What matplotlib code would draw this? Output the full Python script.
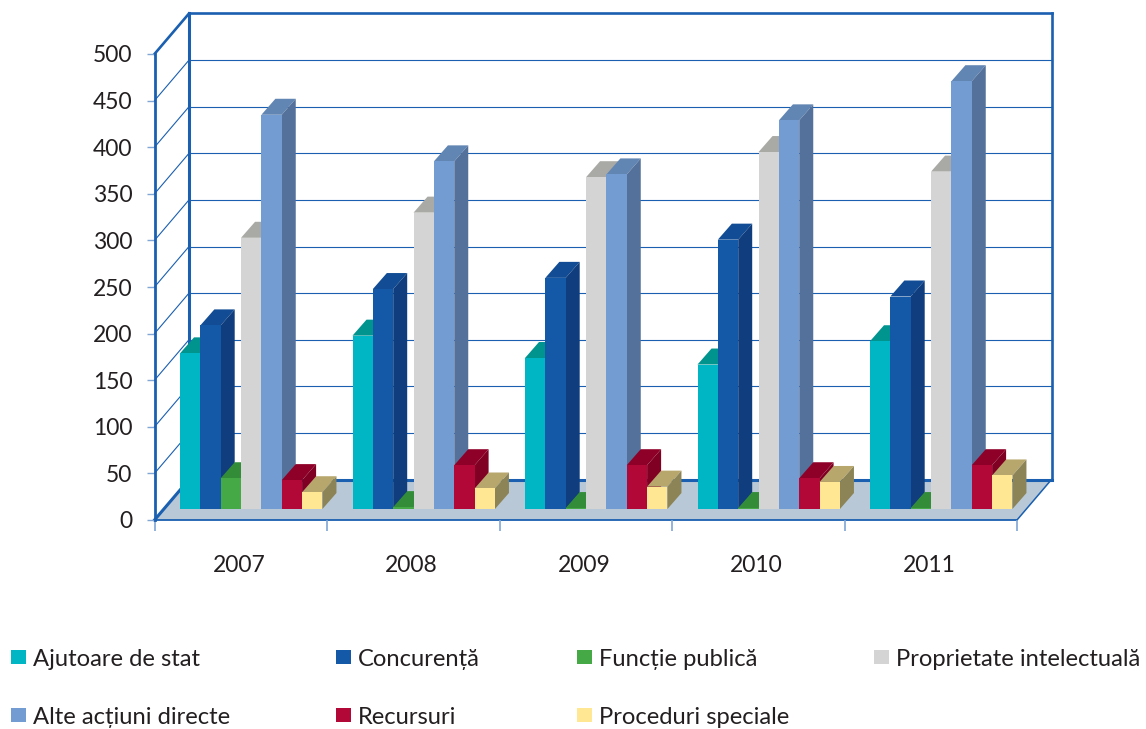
"""Pseudo-3D clustered bars, 2007-2011, drawn on a plain 2D axes."""

import matplotlib.pyplot as plt
from matplotlib.patches import Polygon, Rectangle

W, H = 1146, 729

years = ["2007", "2008", "2009", "2010", "2011"]
series = [
    "Ajutoare de stat", "Concurență", "Funcție publică", "Proprietate intelectuală",
    "Alte acțiuni directe", "Recursuri", "Proceduri speciale",
]
ajutoare = [167, 186, 162, 155, 180]
concurenta = [197, 236, 248, 289, 228]
functie = [33, 2, 1, 1, 1]
proprietate = [291, 318, 356, 383, 362]
alte = [423, 373, 359, 417, 459]
recursuri = [31, 47, 47, 33, 47]
proceduri = [18, 22, 24, 29, 36]
values = [ajutoare, concurenta, functie, proprietate, alte, recursuri, proceduri]
yticks = list(range(0, 501, 50))

# front, top, side
colors = [
    ("#00b6c4", "#00948f", "#007f85"),
    ("#1459a8", "#114c94", "#0f3d7d"),
    ("#45aa45", "#338d38", "#2c7a31"),
    ("#d3d4d3", "#a9a9a5", "#9a9a98"),
    ("#739cd2", "#6186b3", "#54719b"),
    ("#b20837", "#8f0028", "#7f0022"),
    ("#ffe794", "#b8a76d", "#8c8456"),
]
BLUE = "#1a5fb0"
FLOOR = "#b8c8d6"
TEXT = "#231f20"
FONT = "Lato"

plt.rcParams["font.family"] = [FONT, "DejaVu Sans"]

# plot box in pixels: x 154.5..1017, value 0 at y=520, 500 at y=54
X0, X1, Y0, Y5 = 154.5, 1017.0, 520.0, 54.0
PX = 5 / (X1 - X0)         # category units per pixel
PY = 500 / (Y0 - Y5)       # value units per pixel

fig = plt.figure(figsize=(W / 100, H / 100), dpi=100)
ax = fig.add_axes([X0 / W, 1 - Y0 / H, (X1 - X0) / W, (Y0 - Y5) / H])
ax.set_xlim(0, 5)
ax.set_ylim(0, 500)
ax.patch.set_visible(False)

for name in ("top", "right", "bottom"):
    ax.spines[name].set_visible(False)
ax.spines["left"].set_color(BLUE)
ax.spines["left"].set_linewidth(2.0)
ax.spines["left"].set_zorder(6)

ax.set_yticks(yticks)
ax.tick_params(axis="y", length=6, width=1, color="#7fa6d4", pad=10, labelsize=16.5, labelcolor=TEXT)
ax.set_xticks(range(6))
ax.set_xticklabels([])
ax.tick_params(axis="x", length=8, width=1.2, color="#7fa6d4")
ax.set_xticks([i + 0.49 for i in range(5)], minor=True)
ax.set_xticklabels(years, minor=True)
ax.tick_params(axis="x", which="minor", length=0, pad=25, labelsize=16.5, labelcolor=TEXT)

# depth of the box and of the bars
wall_dx, wall_dy = 34.5 * PX, 40.5 * PY
bar_dx, bar_dy = 14 * PX, 16 * PY
plane_dx, plane_dy = 9.5 * PX, 11 * PY


def poly(points, color, z=2, edge="none", lw=0):
    ax.add_patch(Polygon(points, closed=True, facecolor=color, edgecolor=edge,
                         linewidth=lw, zorder=z, clip_on=False))


def line(xs, ys, lw=1.0, z=1):
    ax.plot(xs, ys, color=BLUE, linewidth=lw, zorder=z, clip_on=False,
            solid_capstyle="projecting")


# floor
poly([(0, 0), (5, 0), (5 + wall_dx, wall_dy), (wall_dx, wall_dy)], FLOOR, z=0.5)
line([0, 5], [0, 0], 1.3, z=0.6)
line([5, 5 + wall_dx], [0, wall_dy], 1.1, z=0.6)

# walls
for v in yticks[1:-1]:
    line([wall_dx, 5 + wall_dx], [v + wall_dy, v + wall_dy], 0.8)
    line([0, wall_dx], [v, v + wall_dy], 0.8)
line([wall_dx, 5 + wall_dx], [wall_dy, wall_dy], 2.2)
line([wall_dx, 5 + wall_dx], [500 + wall_dy, 500 + wall_dy], 1.9)
line([wall_dx, wall_dx], [wall_dy, 500 + wall_dy], 2.2)
line([5 + wall_dx, 5 + wall_dx], [wall_dy, 500 + wall_dy], 1.9)
line([0, wall_dx], [500, 500 + wall_dy], 1.9)
line([0, wall_dx], [0, wall_dy], 2.2)

# bars, left to right so each one overlaps the side of the previous
bar_w = 20.35 * PX
start = 16.0 * PX
z = 2
for i in range(len(years)):
    for j in range(len(series)):
        v = values[j][i]
        x = i + start + plane_dx + j * bar_w
        y = plane_dy
        front, top, side = colors[j]
        poly([(x, y + v), (x + bar_w, y + v), (x + bar_w + bar_dx, y + v + bar_dy),
              (x + bar_dx, y + v + bar_dy)], top, z)
        poly([(x + bar_w, y), (x + bar_w + bar_dx, y + bar_dy),
              (x + bar_w + bar_dx, y + v + bar_dy), (x + bar_w, y + v)], side, z)
        ax.bar(x, v, width=bar_w, bottom=y, align="edge", color=front, zorder=z, clip_on=False)
        z += 0.01

# legend placed by hand, two rows of four columns
legend_x = [11, 336, 577, 874, 11, 336, 577]
legend_y = [649.5, 649.5, 649.5, 649.5, 707.5, 707.5, 707.5]
for j, name in enumerate(series):
    lx, ly = legend_x[j], legend_y[j]
    fig.add_artist(Rectangle((lx / W, 1 - (ly + 14.5) / H), 14.5 / W, 14.5 / H,
                             facecolor=colors[j][0], edgecolor="none",
                             transform=fig.transFigure))
    fig.text((lx + 22) / W, 1 - (ly + 17) / H, name, fontsize=17.1, color=TEXT,
             ha="left", va="baseline")

fig.savefig("out.png", dpi=100)
